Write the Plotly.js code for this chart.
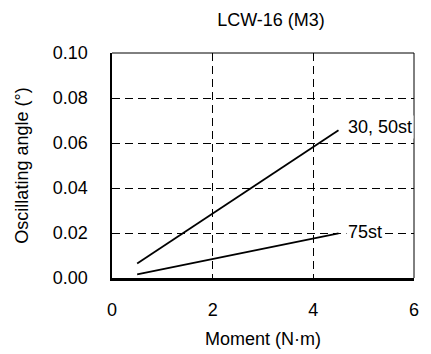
<!DOCTYPE html>
<html>
<head>
<meta charset="utf-8">
<script src="https://cdn.plot.ly/plotly-3.0.1.min.js"></script>
<style>
  html, body { margin: 0; padding: 0; background: #fff; }
  #chart { width: 431px; height: 354px; }
</style>
</head>
<body>
<div id="chart"></div>
<script>
// Oscillating angle vs. applied moment, LCW-16 (M3)
const momentPoints = [0.5, 4.5];
const angleShortStroke = [0.0065, 0.0657];   // 30, 50st
const angleLongStroke = [0.0016, 0.0198];    // 75st
const seriesNames = ['30, 50st', '75st'];
const xTicks = [0, 2, 4, 6];
const yTicks = [0, 0.02, 0.04, 0.06, 0.08, 0.10];

const FONT = '"Liberation Sans", Arial, sans-serif';
const TEXT_SIZE = 18;
const font = (size) => ({ family: FONT, size: size, color: '#000' });

const traces = [
  { x: momentPoints, y: angleShortStroke, name: seriesNames[0], mode: 'lines',
    line: { color: '#000', width: 1.8 }, hoverinfo: 'skip' },
  { x: momentPoints, y: angleLongStroke, name: seriesNames[1], mode: 'lines',
    line: { color: '#000', width: 1.8 }, hoverinfo: 'skip' }
];

// series labels sit just past the end of each line
const labels = [
  { x: 4.65, y: angleShortStroke[1] + 0.0015, text: seriesNames[0] },
  { x: 4.65, y: angleLongStroke[1] + 0.0007, text: seriesNames[1] }
].map(a => ({
  x: a.x, y: a.y, xref: 'x', yref: 'y', text: a.text, showarrow: false,
  xanchor: 'left', yanchor: 'middle', bgcolor: '#fff', borderpad: 1,
  font: font(TEXT_SIZE)
}));

const layout = {
  width: 431, height: 354,
  margin: { l: 112, r: 17, t: 53, b: 76 },
  paper_bgcolor: '#fff', plot_bgcolor: '#fff',
  showlegend: false,
  font: font(TEXT_SIZE),
  title: { text: 'LCW-16 (M3)', x: 271 / 431, xanchor: 'center',
           y: 1 - 20 / 354, yanchor: 'middle', yref: 'container',
           font: font(TEXT_SIZE) },
  xaxis: {
    range: [0, 6], tickvals: xTicks, ticktext: xTicks.map(String),
    tickfont: font(TEXT_SIZE),
    showline: true, linecolor: '#000', linewidth: 2.5,
    showgrid: true, gridcolor: '#000', gridwidth: 1, griddash: '8px,5px',
    zeroline: false, ticks: '', ticklabelstandoff: 14,
    title: { text: 'Moment (N·m)', standoff: 14, font: font(TEXT_SIZE) },
    fixedrange: true
  },
  yaxis: {
    range: [0, 0.1], tickvals: yTicks, ticktext: yTicks.map(v => v.toFixed(2)),
    tickfont: font(TEXT_SIZE),
    showline: true, linecolor: '#000', linewidth: 2.5,
    showgrid: true, gridcolor: '#000', gridwidth: 1, griddash: '8px,5px',
    zeroline: false, ticks: '', ticklabelstandoff: 18,
    title: { text: 'Oscillating angle (°)', standoff: 20, font: font(TEXT_SIZE) },
    fixedrange: true
  },
  shapes: [
    { type: 'line', xref: 'paper', yref: 'paper', x0: 0, x1: 1, y0: 1, y1: 1,
      line: { color: '#000', width: 1 } },
    { type: 'line', xref: 'paper', yref: 'paper', x0: 1, x1: 1, y0: 0, y1: 1,
      line: { color: '#000', width: 1 } }
  ],
  annotations: labels
};

Plotly.newPlot('chart', traces, layout, { displayModeBar: false, staticPlot: true });
</script>
</body>
</html>
